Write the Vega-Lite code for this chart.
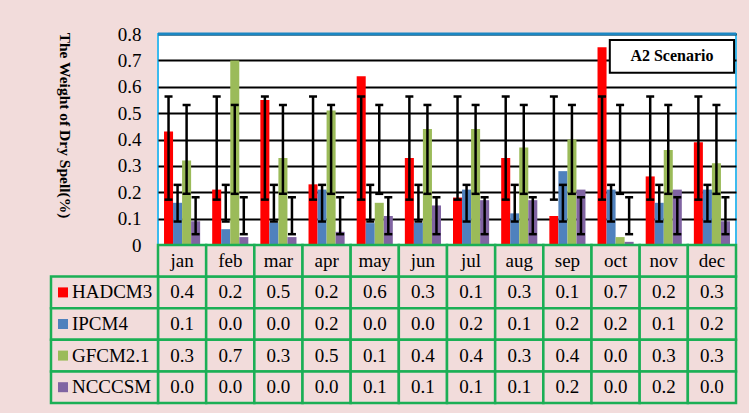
{
  "$schema": "https://vega.github.io/schema/vega-lite/v6.json",
  "background": "#F2DCDB",
  "padding": {"left": 49, "top": 24, "right": 13, "bottom": 10},
  "spacing": 0,
  "bounds": "flush",
  "config": {
    "view": {"stroke": null},
    "font": "Liberation Serif",
    "text": {"font": "Liberation Serif", "fontSize": 19, "color": "black"}
  },
  "datasets": {
    "bars": [
      {"month": "jan", "model": "HADCM3", "value": 0.43, "label": "0.4"},
      {"month": "jan", "model": "IPCM4", "value": 0.16, "label": "0.1"},
      {"month": "jan", "model": "GFCM2.1", "value": 0.32, "label": "0.3"},
      {"month": "jan", "model": "NCCCSM", "value": 0.09, "label": "0.0"},
      {"month": "feb", "model": "HADCM3", "value": 0.21, "label": "0.2"},
      {"month": "feb", "model": "IPCM4", "value": 0.06, "label": "0.0"},
      {"month": "feb", "model": "GFCM2.1", "value": 0.70, "label": "0.7"},
      {"month": "feb", "model": "NCCCSM", "value": 0.03, "label": "0.0"},
      {"month": "mar", "model": "HADCM3", "value": 0.55, "label": "0.5"},
      {"month": "mar", "model": "IPCM4", "value": 0.085, "label": "0.0"},
      {"month": "mar", "model": "GFCM2.1", "value": 0.33, "label": "0.3"},
      {"month": "mar", "model": "NCCCSM", "value": 0.03, "label": "0.0"},
      {"month": "apr", "model": "HADCM3", "value": 0.23, "label": "0.2"},
      {"month": "apr", "model": "IPCM4", "value": 0.21, "label": "0.2"},
      {"month": "apr", "model": "GFCM2.1", "value": 0.51, "label": "0.5"},
      {"month": "apr", "model": "NCCCSM", "value": 0.05, "label": "0.0"},
      {"month": "may", "model": "HADCM3", "value": 0.64, "label": "0.6"},
      {"month": "may", "model": "IPCM4", "value": 0.083, "label": "0.0"},
      {"month": "may", "model": "GFCM2.1", "value": 0.16, "label": "0.1"},
      {"month": "may", "model": "NCCCSM", "value": 0.11, "label": "0.1"},
      {"month": "jun", "model": "HADCM3", "value": 0.33, "label": "0.3"},
      {"month": "jun", "model": "IPCM4", "value": 0.083, "label": "0.0"},
      {"month": "jun", "model": "GFCM2.1", "value": 0.44, "label": "0.4"},
      {"month": "jun", "model": "NCCCSM", "value": 0.15, "label": "0.1"},
      {"month": "jul", "model": "HADCM3", "value": 0.18, "label": "0.1"},
      {"month": "jul", "model": "IPCM4", "value": 0.21, "label": "0.2"},
      {"month": "jul", "model": "GFCM2.1", "value": 0.44, "label": "0.4"},
      {"month": "jul", "model": "NCCCSM", "value": 0.17, "label": "0.1"},
      {"month": "aug", "model": "HADCM3", "value": 0.33, "label": "0.3"},
      {"month": "aug", "model": "IPCM4", "value": 0.12, "label": "0.1"},
      {"month": "aug", "model": "GFCM2.1", "value": 0.37, "label": "0.3"},
      {"month": "aug", "model": "NCCCSM", "value": 0.17, "label": "0.1"},
      {"month": "sep", "model": "HADCM3", "value": 0.11, "label": "0.1"},
      {"month": "sep", "model": "IPCM4", "value": 0.28, "label": "0.2"},
      {"month": "sep", "model": "GFCM2.1", "value": 0.40, "label": "0.4"},
      {"month": "sep", "model": "NCCCSM", "value": 0.21, "label": "0.2"},
      {"month": "oct", "model": "HADCM3", "value": 0.75, "label": "0.7"},
      {"month": "oct", "model": "IPCM4", "value": 0.21, "label": "0.2"},
      {"month": "oct", "model": "GFCM2.1", "value": 0.03, "label": "0.0"},
      {"month": "oct", "model": "NCCCSM", "value": 0.012, "label": "0.0"},
      {"month": "nov", "model": "HADCM3", "value": 0.26, "label": "0.2"},
      {"month": "nov", "model": "IPCM4", "value": 0.16, "label": "0.1"},
      {"month": "nov", "model": "GFCM2.1", "value": 0.36, "label": "0.3"},
      {"month": "nov", "model": "NCCCSM", "value": 0.21, "label": "0.2"},
      {"month": "dec", "model": "HADCM3", "value": 0.39, "label": "0.3"},
      {"month": "dec", "model": "IPCM4", "value": 0.21, "label": "0.2"},
      {"month": "dec", "model": "GFCM2.1", "value": 0.31, "label": "0.3"},
      {"month": "dec", "model": "NCCCSM", "value": 0.09, "label": "0.0"}
    ],
    "err": [
      {"model": "HADCM3", "lo": 0.172, "hi": 0.563},
      {"model": "IPCM4", "lo": 0.089, "hi": 0.228},
      {"model": "GFCM2.1", "lo": 0.194, "hi": 0.531},
      {"model": "NCCCSM", "lo": 0.041, "hi": 0.181}
    ],
    "months": [
      {"month": "jan"}, {"month": "feb"}, {"month": "mar"}, {"month": "apr"},
      {"month": "may"}, {"month": "jun"}, {"month": "jul"}, {"month": "aug"},
      {"month": "sep"}, {"month": "oct"}, {"month": "nov"}, {"month": "dec"}
    ],
    "models": [
      {"model": "HADCM3"}, {"model": "IPCM4"}, {"model": "GFCM2.1"}, {"model": "NCCCSM"}
    ]
  },
  "vconcat": [
    {
      "width": 578,
      "height": 211,
      "view": {"stroke": "#3DBBEE", "strokeWidth": 2, "fill": "#FFFFFF"},
      "layer": [
        {
          "data": {"name": "bars"},
          "transform": [
            {"lookup": "model", "from": {"data": {"name": "err"}, "key": "model", "fields": ["lo", "hi"]}}
          ],
          "encoding": {
            "x": {"field": "month", "type": "nominal", "scale": {"domain": ["jan","feb","mar","apr","may","jun","jul","aug","sep","oct","nov","dec"], "paddingInner": 0.25, "paddingOuter": 0.125}, "axis": null},
            "xOffset": {"field": "model", "type": "nominal", "scale": {"domain": ["HADCM3","IPCM4","GFCM2.1","NCCCSM"], "paddingInner": 0, "paddingOuter": 0}}
          },
          "layer": [
            {
              "mark": {"type": "bar"},
              "encoding": {
                "y": {
                  "field": "value",
                  "type": "quantitative",
                  "scale": {"domain": [0, 0.8]},
                  "axis": {
                    "values": [0, 0.1, 0.2, 0.3, 0.4, 0.5, 0.6, 0.7, 0.8],
                    "tickCount": 12,
                    "format": ".1~f",
                    "labelOverlap": false,
                    "labelFlush": false,
                    "ticks": false,
                    "domain": false,
                    "labelFont": "Liberation Serif",
                    "labelFontSize": 19,
                    "labelColor": "black",
                    "labelPadding": 17,
                    "grid": true,
                    "gridColor": "#000000",
                    "gridWidth": 2,
                    "title": "The Weight of Dry Spell(%)",
                    "titleFont": "Liberation Serif",
                    "titleFontSize": 15.5,
                    "titleFontWeight": "bold",
                    "titleColor": "black",
                    "titleAngle": 90,
                    "titleAlign": "center",
                    "titleBaseline": "middle",
                    "titleX": -94,
                    "titleY": 91
                  }
                },
                "color": {"field": "model", "type": "nominal", "scale": {"domain": ["HADCM3","IPCM4","GFCM2.1","NCCCSM"], "range": ["#FF0000","#4F81BD","#9BBB59","#8064A2"]}, "legend": null}
              }
            },
            {
              "mark": {"type": "rule", "color": "black", "strokeWidth": 2.5},
              "encoding": {
                "y": {"field": "lo", "type": "quantitative"},
                "y2": {"field": "hi"}
              }
            },
            {
              "mark": {"type": "tick", "color": "black", "thickness": 2.5, "size": 8, "opacity": 1},
              "encoding": {"y": {"field": "lo", "type": "quantitative"}}
            },
            {
              "mark": {"type": "tick", "color": "black", "thickness": 2.5, "size": 8, "opacity": 1},
              "encoding": {"y": {"field": "hi", "type": "quantitative"}}
            }
          ]
        },
        {
          "data": {"values": [{"note": "A2 Scenario"}]},
          "layer": [
            {
              "mark": {"type": "rule", "color": "#1B87C3", "strokeWidth": 3},
              "encoding": {
                "y": {"datum": 0.8, "type": "quantitative"}
              }
            },
            {
              "mark": {"type": "rect", "fill": "white", "stroke": "black", "strokeWidth": 2},
              "encoding": {
                "x": {"datum": 9.38, "type": "quantitative", "scale": {"domain": [0, 12]}, "axis": null},
                "x2": {"datum": 11.96},
                "y": {"datum": 0.777, "type": "quantitative"},
                "y2": {"datum": 0.653}
              }
            },
            {
              "mark": {"type": "text", "fontWeight": "bold", "fontSize": 16, "font": "Liberation Serif", "align": "center", "baseline": "middle"},
              "encoding": {
                "x": {"datum": 10.67, "type": "quantitative"},
                "y": {"datum": 0.715, "type": "quantitative"},
                "text": {"field": "note"}
              }
            }
          ]
        }
      ],
      "resolve": {"scale": {"x": "independent"}}
    },
    {
      "width": 578,
      "height": 158,
      "view": {"stroke": null},
      "layer": [
        {
          "encoding": {
            "x": {"field": "month", "type": "nominal", "scale": {"domain": ["jan","feb","mar","apr","may","jun","jul","aug","sep","oct","nov","dec"], "paddingInner": 0, "paddingOuter": 0}, "axis": null}
          },
          "layer": [
            {
              "data": {"name": "bars"},
              "mark": {"type": "rect", "fill": "#F2DCDB", "stroke": "#1BAF55", "strokeWidth": 2.5},
              "encoding": {
                "y": {"field": "model", "type": "nominal", "scale": {"domain": ["header","HADCM3","IPCM4","GFCM2.1","NCCCSM"], "paddingInner": 0, "paddingOuter": 0}, "axis": null}
              }
            },
            {
              "data": {"name": "months"},
              "mark": {"type": "rect", "fill": "#F2DCDB", "stroke": "#1BAF55", "strokeWidth": 2.5},
              "encoding": {
                "y": {"datum": "header", "type": "nominal"}
              }
            },
            {
              "data": {"name": "bars"},
              "mark": {"type": "text", "fontSize": 19, "font": "Liberation Serif", "baseline": "middle"},
              "encoding": {
                "y": {"field": "model", "type": "nominal"},
                "text": {"field": "label"}
              }
            },
            {
              "data": {"name": "months"},
              "mark": {"type": "text", "fontSize": 19, "font": "Liberation Serif", "baseline": "middle"},
              "encoding": {
                "y": {"datum": "header", "type": "nominal"},
                "text": {"field": "month"}
              }
            }
          ]
        },
        {
          "data": {"name": "models"},
          "layer": [
            {
              "mark": {"type": "rect", "fill": "#F2DCDB", "stroke": "#1BAF55", "strokeWidth": 2.5},
              "encoding": {
                "x": {"datum": "legend", "type": "nominal", "scale": {"domain": ["legend"], "range": [-107, 0], "paddingInner": 0, "paddingOuter": 0}, "axis": null},
                "y": {"field": "model", "type": "nominal"}
              }
            },
            {
              "mark": {"type": "square", "size": 100, "filled": true, "opacity": 1},
              "encoding": {
                "x": {"datum": "legend", "type": "nominal", "bandPosition": 0.112},
                "y": {"field": "model", "type": "nominal"},
                "color": {"field": "model", "type": "nominal", "scale": {"domain": ["HADCM3","IPCM4","GFCM2.1","NCCCSM"], "range": ["#FF0000","#4F81BD","#9BBB59","#8064A2"]}, "legend": null}
              }
            },
            {
              "mark": {"type": "text", "fontSize": 19, "font": "Liberation Serif", "align": "left", "baseline": "middle"},
              "encoding": {
                "x": {"datum": "legend", "type": "nominal", "bandPosition": 0.196},
                "y": {"field": "model", "type": "nominal"},
                "text": {"field": "model"}
              }
            }
          ]
        }
      ],
      "resolve": {"scale": {"x": "independent"}}
    }
  ]
}
